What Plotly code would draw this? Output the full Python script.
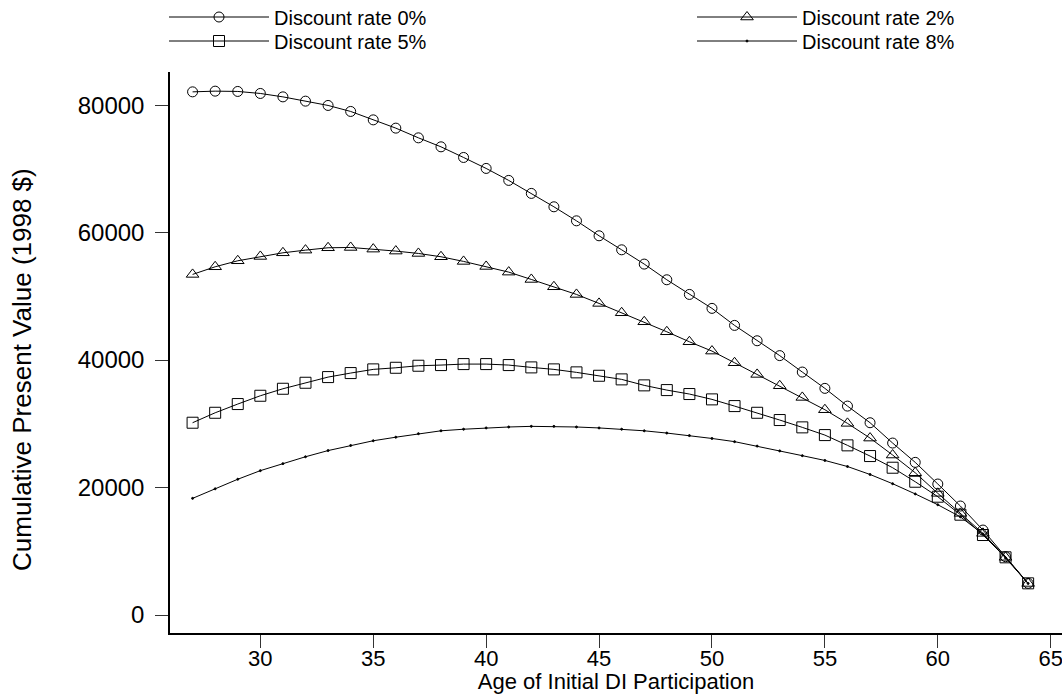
import plotly.graph_objects as go

ages = list(range(27, 65))

rate0 = [82085, 82195, 82148, 81833, 81300, 80626, 79951, 79010, 77690, 76391,
         74870, 73460, 71790, 70070, 68190, 66150, 64050, 61850, 59500, 57300,
         55060, 52600, 50300, 48110, 45440, 43030, 40700, 38120, 35560, 32780,
         30170, 26980, 23950, 20550, 17100, 13330, 9150, 4970]
rate2 = [53440, 54640, 55580, 56260, 56830, 57250, 57620, 57670, 57410, 57100,
         56730, 56210, 55480, 54690, 53800, 52650, 51500, 50300, 48890, 47420,
         46010, 44440, 42870, 41410, 39580, 37750, 35970, 34140, 32210, 30070,
         27760, 25100, 22320, 19090, 15950, 12810, 9050, 4950]
rate5 = [30170, 31730, 33100, 34400, 35500, 36440, 37330, 37960, 38540, 38790,
         39110, 39215, 39370, 39370, 39215, 38850, 38540, 38070, 37540, 36970,
         36030, 35290, 34670, 33830, 32780, 31730, 30590, 29440, 28230, 26620,
         24940, 23110, 20910, 18560, 15740, 12550, 9050, 4970]
rate8 = [18300, 19800, 21300, 22650, 23750, 24830, 25800, 26600, 27340, 27900,
         28450, 28900, 29150, 29350, 29500, 29600, 29600, 29500, 29350, 29150,
         28900, 28550, 28150, 27700, 27200, 26500, 25750, 25000, 24250, 23300,
         22050, 20600, 19000, 17300, 15400, 12700, 8950, 4950]

names = ["Discount rate 0%", "Discount rate 2%", "Discount rate 5%", "Discount rate 8%"]
x_ticks = [30, 35, 40, 45, 50, 55, 60, 65]
y_ticks = [0, 20000, 40000, 60000, 80000]
x_title = "Age of Initial DI Participation"
y_title = "Cumulative Present Value (1998 $)"

FONT = "Liberation Sans, Arial, sans-serif"
W, H = 1062, 694

fig = go.Figure()
styles = [
    dict(symbol="circle-open", size=10, legend="legend"),
    dict(symbol="triangle-up-open", size=11, legend="legend2"),
    dict(symbol="square-open", size=11, legend="legend3"),
    dict(symbol="circle", size=2, legend="legend4"),
]
for name, vals, st in zip(names, [rate0, rate2, rate5, rate8], styles):
    fig.add_trace(go.Scatter(
        x=ages, y=vals, name=name, mode="lines+markers", legend=st["legend"],
        line=dict(color="black", width=1),
        marker=dict(symbol=st["symbol"], size=st["size"], color="black",
                    line=dict(color="black", width=1)),
    ))

def leg(xpx, ypx):
    return dict(orientation="v", xref="container", yref="container",
                x=xpx / W, xanchor="left", y=1 - ypx / H, yanchor="middle",
                itemwidth=100, font=dict(family=FONT, size=20, color="black"),
                bgcolor="rgba(0,0,0,0)", borderwidth=0)

fig.update_layout(
    width=W, height=H,
    margin=dict(l=170, r=0, t=72, b=61, autoexpand=False),
    paper_bgcolor="white", plot_bgcolor="white",
    font=dict(family=FONT, size=20, color="black"),
    showlegend=True,
    legend=leg(164, 17),
    legend2=leg(692, 17),
    legend3=leg(164, 41),
    legend4=leg(692, 41),
    xaxis=dict(range=[26.0, 65.5], tickvals=x_ticks, showgrid=False, zeroline=False,
               showline=True, linecolor="black", linewidth=1.5,
               ticks="outside", ticklen=13, tickcolor="#333", tickwidth=1,
               tickfont=dict(size=22), ticklabelstandoff=-8,
               ticklabeloverflow="allow",
               title=dict(text=x_title, font=dict(size=22), standoff=6)),
    yaxis=dict(range=[-2824, 85200], tickvals=y_ticks, tickformat="d",
               showgrid=False, zeroline=False,
               showline=True, linecolor="black", linewidth=1.5,
               ticks="outside", ticklen=13, tickcolor="#333", tickwidth=1,
               tickfont=dict(size=24), ticklabelstandoff=6),
    annotations=[dict(text=y_title, textangle=-90, xref="paper", yref="paper",
                      x=(22 - 170) / 892, y=(633 - 370) / 561,
                      xanchor="center", yanchor="middle", showarrow=False,
                      font=dict(size=26))],
)

fig.write_html("out.html")
